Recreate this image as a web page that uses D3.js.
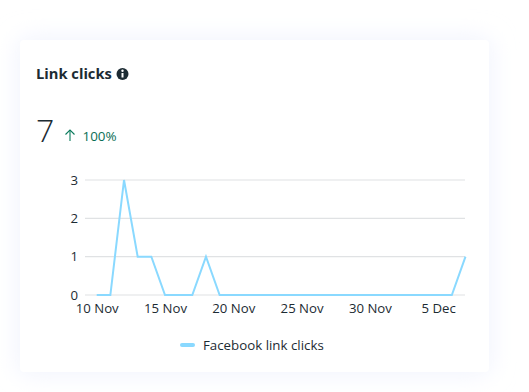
<!DOCTYPE html>
<html>
<head>
<meta charset="utf-8">
<script src="https://cdn.jsdelivr.net/npm/d3@7"></script>
<style>
  html, body { margin: 0; padding: 0; background: #fff; overflow: hidden; }
  svg { display: block; font-family: "Open Sans", sans-serif; }
</style>
</head>
<body>
<svg id="chart"></svg>
<script>
const days = ["2023-11-10","2023-11-11","2023-11-12","2023-11-13","2023-11-14","2023-11-15","2023-11-16","2023-11-17","2023-11-18","2023-11-19","2023-11-20","2023-11-21","2023-11-22","2023-11-23","2023-11-24","2023-11-25","2023-11-26","2023-11-27","2023-11-28","2023-11-29","2023-11-30","2023-12-01","2023-12-02","2023-12-03","2023-12-04","2023-12-05","2023-12-06","2023-12-07"];
const clicks = [0,0,3,1,1,0,0,0,1,0,0,0,0,0,0,0,0,0,0,0,0,0,0,0,0,0,0,1];
const yTicks = [0,1,2,3];
const xTickDays = ["2023-11-10","2023-11-15","2023-11-20","2023-11-25","2023-11-30","2023-12-05"];
const seriesName = "Facebook link clicks";

const width = 529, height = 392;
const parseDay = d3.utcParse("%Y-%m-%d");
const textColor = "#1c2b33";
const lineColor = "#8ad9ff";

const svg = d3.select("#chart").attr("width", width).attr("height", height);

const defs = svg.append("defs");
const glow = defs.append("filter").attr("id", "glow")
  .attr("x", "-10%").attr("y", "-15%").attr("width", "120%").attr("height", "130%");
glow.append("feGaussianBlur").attr("stdDeviation", 13);

// card
svg.append("rect").attr("x", 20).attr("y", 40).attr("width", 469).attr("height", 332)
  .attr("rx", 4).attr("fill", "#eef1fd").attr("filter", "url(#glow)");
svg.append("rect").attr("x", 20).attr("y", 40).attr("width", 469).attr("height", 332)
  .attr("rx", 4).attr("fill", "#fff");

// header
svg.append("text").attr("x", 36).attr("y", 79).attr("font-size", 14.7).attr("font-weight", 700)
  .attr("fill", textColor).text("Link clicks");
const info = svg.append("g").attr("transform", "translate(122.5,74)");
info.append("circle").attr("r", 6).attr("fill", textColor);
info.append("rect").attr("x", -1).attr("y", -1).attr("width", 2).attr("height", 4.5).attr("fill", "#fff");
info.append("circle").attr("cy", -3.2).attr("r", 1.2).attr("fill", "#fff");

svg.append("text").attr("x", 36).attr("y", 142).attr("font-size", 32).attr("font-weight", 300)
  .attr("fill", textColor).text("7");
const arrow = svg.append("g").attr("fill", "none").attr("stroke", "#0a7a5c").attr("stroke-width", 1.1);
arrow.append("path").attr("d", d3.line()([[70, 141], [70, 130]]));
arrow.append("path").attr("d", d3.line()([[65.5, 134.5], [70, 130], [74.5, 134.5]]));
svg.append("text").attr("x", 82.5).attr("y", 141).attr("font-size", 13.4)
  .attr("fill", "#0a6e55").text("100%");

// scales
const x = d3.scaleUtc()
  .domain(d3.extent(days, parseDay))
  .range([96.7, 465.5]);
const y = d3.scaleLinear().domain([0, 3]).range([295, 180]);

// grid
svg.append("g").selectAll("line").data(yTicks).join("line")
  .attr("x1", 85).attr("x2", 465)
  .attr("y1", d => y(d)).attr("y2", d => y(d))
  .attr("stroke", "#e0e2e4").attr("stroke-width", 1.2);

// axes
const yAxis = svg.append("g").attr("transform", "translate(85,0)")
  .call(d3.axisLeft(y).tickValues(yTicks).tickSize(0).tickPadding(7).tickFormat(d3.format("d")));
const xAxis = svg.append("g").attr("transform", "translate(0,295)")
  .call(d3.axisBottom(x).tickValues(xTickDays.map(parseDay)).tickSize(0).tickPadding(9)
    .tickFormat(d3.utcFormat("%-d %b")));
[yAxis, xAxis].forEach(a => {
  a.select(".domain").remove();
  a.selectAll("text").attr("font-size", 13.2).attr("font-family", "Open Sans").attr("fill", textColor);
});

// line
const line = d3.line().x((d, i) => x(parseDay(days[i]))).y(d => y(d));
svg.append("path").datum(clicks).attr("d", line)
  .attr("fill", "none").attr("stroke", lineColor).attr("stroke-width", 2)
  .attr("stroke-linejoin", "miter");

// legend
svg.append("rect").attr("x", 180).attr("y", 343).attr("width", 15).attr("height", 4)
  .attr("rx", 2).attr("fill", lineColor);
svg.append("text").attr("x", 203).attr("y", 350).attr("font-size", 13.3)
  .attr("fill", textColor).text(seriesName);
</script>
</body>
</html>
